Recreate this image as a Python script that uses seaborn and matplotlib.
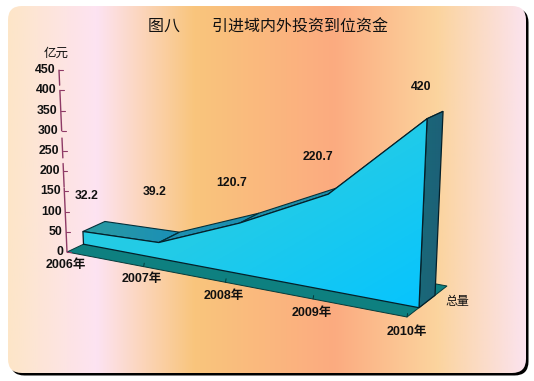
import numpy as np
import pandas as pd
import matplotlib
matplotlib.use("Agg")
import matplotlib.pyplot as plt
import seaborn as sns
from matplotlib.patches import FancyBboxPatch, Polygon

years = ["2006年", "2007年", "2008年", "2009年", "2010年"]
values = [32.2, 39.2, 120.7, 220.7, 420]
value_labels = ["32.2", "39.2", "120.7", "220.7", "420"]
y_ticks = [0, 50, 100, 150, 200, 250, 300, 350, 400, 450]
title = "图八\u3000\u3000引进域内外投资到位资金"
y_unit = "亿元"
series_name = "总量"

# layout of the fake 3d box, in pixels of the 534x381 image
FL, FR = np.array([67.0, 252.0]), np.array([407.0, 317.0])
BL, BR = np.array([122.0, 226.0]), np.array([447.0, 286.0])
D_FRONT, D_BACK = 0.3, 0.7
BEND = -0.127
# the axis line is broken up in the source, these are the visible runs
AXIS_RUNS = [(0, 158), (161, 219), (233, 282), (300, 400), (413, 450)]

sns.set_theme(style="white")
plt.rcParams["font.family"] = ["Liberation Sans", "Noto Sans CJK SC", "DejaVu Sans"]


def warp(t):
    # perspective squeeze along the category axis
    return t * (1 + BEND) / (1 + BEND * t)


def project(i, depth, value):
    s = warp(i / (len(years) - 1))
    base = (1 - depth) * (FL + s * (FR - FL)) + depth * (BL + s * (BR - BL))
    scale = 0.404 - 0.03 * depth + 0.055 * s
    lean = -0.0178 + 0.037 * s
    return np.array([base[0] + lean * value, base[1] - scale * value])


def gradient_fill(ax, patch, colors, extent, horizontal=True, n=256):
    cmap = matplotlib.colors.LinearSegmentedColormap.from_list("g", colors)
    if horizontal:
        img = np.linspace(0, 1, n)[None, :]
    else:
        xx, yy = np.meshgrid(np.linspace(0, 1, n), np.linspace(0, 1, n))
        img = (xx + yy) / 2
    ax.add_patch(patch)
    im = ax.imshow(img, cmap=cmap, extent=extent, aspect="auto", zorder=patch.get_zorder(),
                   vmin=0, vmax=1, origin="upper")
    im.set_clip_path(patch)


fig = plt.figure(figsize=(5.34, 3.81), dpi=100)
ax = fig.add_axes([0, 0, 1, 1])

# panel with its black shadow
shadow = FancyBboxPatch((24.5, 22.5), 490, 339, boxstyle="round,pad=14,rounding_size=14",
                        fc="black", ec="none", zorder=1)
ax.add_patch(shadow)
panel = FancyBboxPatch((22, 20), 490, 339, boxstyle="round,pad=14,rounding_size=14",
                       fc="none", ec="none", zorder=2)
bg = [(0.0, "#FDE6C8"), (0.17, "#FDE3F2"), (0.36, "#F9C57C"), (0.63, "#FCAB80"),
      (0.83, "#FBD49E"), (1.0, "#FBE3EE")]
gradient_fill(ax, panel, bg, (8, 526, 373, 6))

# floor
floor = Polygon([FL, FR, BR, BL], closed=True, fc="#0E8080", ec="#063a3a", lw=0.7, zorder=3)
ax.add_patch(floor)
for i in range(1, len(years)):
    p = project(i, 0, 0)
    ax.plot([p[0], p[0] + 0.6], [p[1], p[1] - 3.5], color="#063a3a", lw=0.7, zorder=3)

n = len(years)
# ribbons on top of the area, left to right
ribbon_colors = ["#2A98A8", "#1C8FB0", "#1F8FA8", "#1F8FA8"]
for i in range(n - 1):
    quad = [project(i, D_FRONT, values[i]), project(i + 1, D_FRONT, values[i + 1]),
            project(i + 1, D_BACK, values[i + 1]), project(i, D_BACK, values[i])]
    if i == 0:
        p = Polygon(quad, closed=True, fc="none", ec="none", zorder=4)
        x0, x1 = quad[0][0], quad[2][0]
        gradient_fill(ax, p, ["#2A9AA0", "#1A8FB8"], (x0, x1, 245, 215))
        ax.add_patch(Polygon(quad, closed=True, fc="none", ec="#04303a", lw=0.8, zorder=4.1))
    else:
        ax.add_patch(Polygon(quad, closed=True, fc=ribbon_colors[i], ec="#04303a", lw=0.8, zorder=4))

# right end of the area
side = [project(n - 1, D_FRONT, 0), project(n - 1, D_BACK, 0),
        project(n - 1, D_BACK, values[-1]), project(n - 1, D_FRONT, values[-1])]
side_patch = Polygon(side, closed=True, fc="none", ec="none", zorder=4.5)
gradient_fill(ax, side_patch, ["#1A6A78", "#1D5F78"], (415, 447, 310, 105))
ax.add_patch(Polygon(side, closed=True, fc="none", ec="#04202a", lw=0.9, zorder=4.6))

# front face
front_top = [project(i, D_FRONT, v) for i, v in enumerate(values)]
front = [project(0, D_FRONT, 0)] + front_top + [project(n - 1, D_FRONT, 0)]
front_patch = Polygon(front, closed=True, fc="none", ec="none", zorder=5)
gradient_fill(ax, front_patch, ["#2ACCDC", "#22CBE8", "#06C4FF"], (83, 428, 310, 110), horizontal=False)

outline = pd.DataFrame(front + [front[0]], columns=["x", "y"])
sns.lineplot(data=outline, x="x", y="y", sort=False, estimator=None, color="#04202a",
             lw=0.9, ax=ax, zorder=5.5, legend=False)

# value axis
for lo, hi in AXIS_RUNS:
    run = pd.DataFrame([project(0, 0, lo), project(0, 0, hi)], columns=["x", "y"])
    sns.lineplot(data=run, x="x", y="y", sort=False, estimator=None, color="#8E3A66",
                 lw=1.0, ax=ax, zorder=3, legend=False)
for v in y_ticks:
    p = project(0, 0, v)
    ax.plot([p[0], p[0] + 4], [p[1], p[1]], color="#8E3A66", lw=0.8, zorder=3)
    ax.text(p[0] - 3.5, p[1], str(v), ha="right", va="center", fontsize=8.8, fontweight="bold",
            color="#111111", zorder=6)

# text, placed by hand like in the source
label_pos = [(87, 196), (155, 192), (232, 183), (318, 157), (421, 87)]
for lab, (x, y) in zip(value_labels, label_pos):
    ax.text(x, y, lab, ha="center", va="center", fontsize=8.8, fontweight="bold", color="#111111", zorder=6)
year_pos = [(66, 265), (142, 279), (224, 296), (312, 313), (407, 332)]
for lab, (x, y) in zip(years, year_pos):
    ax.text(x, y, lab, ha="center", va="center", fontsize=9, fontweight="bold", color="#111111", zorder=6,
            family=["Liberation Sans", "Noto Sans CJK SC"])
cjk = ["Noto Sans CJK SC", "DejaVu Sans"]
ax.text(267.5, 27, title, ha="center", va="center", fontsize=11.5, color="#111111", family=cjk, zorder=6)
ax.text(56, 53, y_unit, ha="center", va="center", fontsize=9, color="#111111", family=cjk, zorder=6)
ax.text(457, 301, series_name, ha="center", va="center", fontsize=8.6, color="#111111", family=cjk, zorder=6)

ax.set_xlim(0, 534)
ax.set_ylim(381, 0)
ax.axis("off")
fig.patch.set_facecolor("white")
fig.savefig("out.png", dpi=100)
